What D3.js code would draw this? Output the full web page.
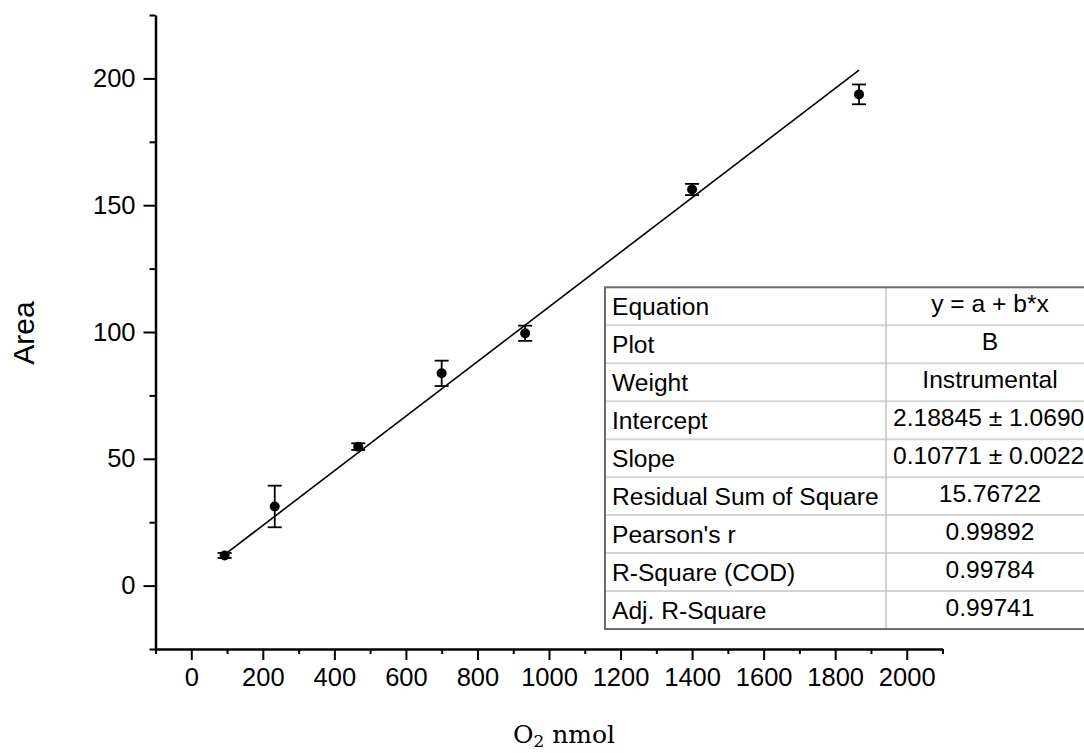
<!DOCTYPE html>
<html>
<head>
<meta charset="utf-8">
<script src="https://cdn.jsdelivr.net/npm/d3@7"></script>
<style>
body { margin:0; background:#fff; }
svg { display:block; }
</style>
</head>
<body>
<script>
// O2 calibration data
const o2 = [93.3, 233.3, 466.7, 700, 933.3, 1400, 1866.7];
const area = [11.9, 31.2, 54.8, 83.7, 99.5, 156.2, 193.7];
const areaErr = [1.0, 8.2, 1.3, 5.0, 3.0, 2.2, 3.9];

// linear fit
const intercept = 2.18845;
const slope = 0.10771;

const xTicks = [0, 200, 400, 600, 800, 1000, 1200, 1400, 1600, 1800, 2000];
const yTicks = [0, 50, 100, 150, 200];

const tableLabels = ["Equation", "Plot", "Weight", "Intercept", "Slope",
  "Residual Sum of Square", "Pearson's r", "R-Square (COD)", "Adj. R-Square"];
const tableValues = ["y = a + b*x", "B", "Instrumental", "2.18845 ± 1.0690",
  "0.10771 ± 0.0022", "15.76722", "0.99892", "0.99784", "0.99741"];

const width = 1084, height = 753;
const sans = "'Liberation Sans', Arial, sans-serif";

const svg = d3.select("body").append("svg")
  .attr("width", width)
  .attr("height", height);

const x = d3.scaleLinear().domain([-100, 2100]).range([155.5, 942.5]);
const y = d3.scaleLinear().domain([-25, 225]).range([649, 15]);

// minor ticks first (no labels)
svg.append("g")
  .attr("transform", "translate(0,649)")
  .call(d3.axisBottom(x).tickValues(d3.range(-100, 2101, 200)).tickSize(5).tickFormat(""))
  .call(g => g.select(".domain").remove())
  .selectAll("line").attr("stroke-width", 2);

svg.append("g")
  .attr("transform", "translate(155.5,0)")
  .call(d3.axisLeft(y).tickValues(d3.range(-25, 226, 50)).tickSize(6).tickFormat(""))
  .call(g => g.select(".domain").remove())
  .selectAll("line").attr("stroke-width", 2);

// major ticks with labels
const xAxis = svg.append("g")
  .attr("transform", "translate(0,649)")
  .call(d3.axisBottom(x).tickValues(xTicks).tickFormat(d3.format("d"))
    .tickSize(11).tickSizeOuter(0).tickPadding(8));
xAxis.select(".domain").attr("stroke-width", 2.5);
xAxis.selectAll("line").attr("stroke-width", 2);
xAxis.selectAll("text").attr("font-family", sans).attr("font-size", 25.5).attr("fill", "#000");

const yAxis = svg.append("g")
  .attr("transform", "translate(155.5,0)")
  .call(d3.axisLeft(y).tickValues(yTicks).tickFormat(d3.format("d"))
    .tickSize(12).tickSizeOuter(0).tickPadding(8));
yAxis.select(".domain").attr("stroke-width", 2.5);
yAxis.selectAll("line").attr("stroke-width", 2);
yAxis.selectAll("text").attr("font-family", sans).attr("font-size", 25.5).attr("fill", "#000");

// axis labels
svg.append("text")
  .attr("transform", "translate(34,333) rotate(-90)")
  .attr("text-anchor", "middle")
  .attr("font-family", sans)
  .attr("font-size", 30)
  .text("Area");

const xl = svg.append("text")
  .attr("x", 564)
  .attr("y", 743)
  .attr("text-anchor", "middle")
  .attr("font-family", "'DejaVu Serif', serif")
  .attr("font-size", 25);
xl.append("tspan").text("O");
xl.append("tspan").attr("font-size", 17).attr("dy", 4).text("2");
xl.append("tspan").attr("dy", -4).text(" nmol");

// fit line
const xMin = d3.min(o2), xMax = d3.max(o2);
svg.append("line")
  .attr("x1", x(xMin)).attr("y1", y(intercept + slope * xMin))
  .attr("x2", x(xMax)).attr("y2", y(intercept + slope * xMax))
  .attr("stroke", "#000")
  .attr("stroke-width", 1.6);

// error bars
const pts = o2.map((v, i) => ({x: v, y: area[i], e: areaErr[i]}));
const eb = svg.append("g").attr("stroke", "#000").attr("stroke-width", 1.8);
eb.selectAll("line.v").data(pts).enter().append("line")
  .attr("class", "v")
  .attr("x1", d => x(d.x)).attr("x2", d => x(d.x))
  .attr("y1", d => y(d.y + d.e)).attr("y2", d => y(d.y - d.e));
eb.selectAll("line.t").data(pts).enter().append("line")
  .attr("class", "t")
  .attr("x1", d => x(d.x) - 7).attr("x2", d => x(d.x) + 7)
  .attr("y1", d => y(d.y + d.e)).attr("y2", d => y(d.y + d.e));
eb.selectAll("line.b").data(pts).enter().append("line")
  .attr("class", "b")
  .attr("x1", d => x(d.x) - 7).attr("x2", d => x(d.x) + 7)
  .attr("y1", d => y(d.y - d.e)).attr("y2", d => y(d.y - d.e));

svg.selectAll("circle").data(pts).enter().append("circle")
  .attr("cx", d => x(d.x))
  .attr("cy", d => y(d.y))
  .attr("r", 5)
  .attr("fill", "#000");

// fit results table
const tLeft = 605, tDiv = 886, tRight = 1094, tTop = 287.3, rowH = 37.97;
const rows = d3.range(tableLabels.length);
const table = svg.append("g");

table.append("rect")
  .attr("x", tLeft).attr("y", tTop)
  .attr("width", tRight - tLeft).attr("height", rowH * rows.length)
  .attr("fill", "#fff");

table.selectAll("line.row").data(rows.slice(1)).enter().append("line")
  .attr("class", "row")
  .attr("x1", tLeft).attr("x2", tRight)
  .attr("y1", i => tTop + i * rowH).attr("y2", i => tTop + i * rowH)
  .attr("stroke", "#d4d4d4").attr("stroke-width", 2);

table.append("line")
  .attr("x1", tDiv).attr("x2", tDiv)
  .attr("y1", tTop).attr("y2", tTop + rowH * rows.length)
  .attr("stroke", "#c4c4c4").attr("stroke-width", 1.5);

table.append("rect")
  .attr("x", tLeft).attr("y", tTop)
  .attr("width", tRight - tLeft).attr("height", rowH * rows.length)
  .attr("fill", "none").attr("stroke", "#6b6b6b").attr("stroke-width", 2);

table.selectAll("text.lab").data(tableLabels).enter().append("text")
  .attr("class", "lab")
  .attr("x", tLeft + 7)
  .attr("y", (d, i) => tTop + i * rowH + 28)
  .attr("font-family", sans).attr("font-size", 24.6)
  .text(d => d);

table.selectAll("text.val").data(tableValues).enter().append("text")
  .attr("class", "val")
  .attr("x", d => d.includes("±") ? 893 : 990)
  .attr("y", (d, i) => tTop + i * rowH + 24.5)
  .attr("text-anchor", d => d.includes("±") ? "start" : "middle")
  .attr("font-family", sans).attr("font-size", 24.6)
  .text(d => d);
</script>
</body>
</html>
